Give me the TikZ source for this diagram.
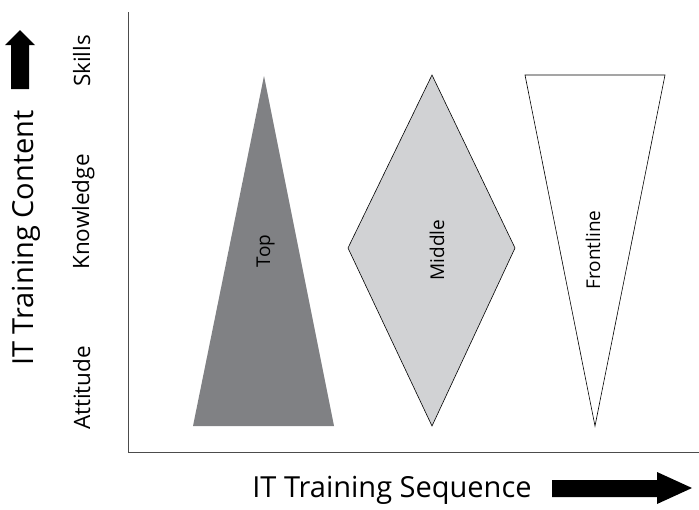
\documentclass[tikz,border=0pt]{standalone}
\usepackage{fontspec}
\setmainfont{Open Sans}
\usepackage{xcolor}
\usepackage{tikz}
\usetikzlibrary{arrows.meta, positioning, calc}
\definecolor{topgray}{HTML}{808184}
\definecolor{midgray}{HTML}{D1D2D4}
\tikzstyle{axis} = [draw=black!70, line width=1pt]
\tikzstyle{levellabel} = [rotate=90, anchor=base, font=\fontsize{22.5}{27}\selectfont, inner sep=0pt]
\tikzstyle{shapelabel} = [rotate=90, anchor=base, font=\fontsize{19}{23}\selectfont, inner sep=0pt]
\tikzstyle{axislabel} = [font=\fontsize{29}{35}\selectfont, inner sep=0pt]
\tikzstyle{bigarrow} = [fill=black, draw=none]

\begin{document}
\begin{tikzpicture}[x=1pt, y=-1pt]
    \useasboundingbox (0,0) rectangle (699,509);
    % Axes
    \coordinate (origin) at (128,452);
    \coordinate (ytop) at (128,12);
    \coordinate (xend) at (699,452);
    \draw[axis] (ytop) -- (origin) -- (xend);

    % Shapes
    \coordinate (topapex) at (264,76);
    \coordinate (topleft) at (193,426);
    \coordinate (topright) at (334,426);
    \fill[topgray] (topapex) -- (topright) -- (topleft) -- cycle;

    \coordinate (midn) at (432,75);
    \coordinate (mide) at (515,248);
    \coordinate (mids) at (432,426);
    \coordinate (midw) at (348,248);
    \draw[fill=midgray, line width=0.6pt] (midn) -- (mide) -- (mids) -- (midw) -- cycle;

    \coordinate (frontleft) at (525,75);
    \coordinate (frontright) at (665,75);
    \coordinate (frontbottom) at (595,426);
    \draw[fill=white, line width=0.6pt] (frontleft) -- (frontright) -- (frontbottom) -- cycle;

    % Shape labels
    \node[shapelabel] (toplbl) at (270,251) {Top};
    \node[shapelabel] (midlbl) at (444,250) {Middle};
    \node[shapelabel] (frontlbl) at (600,250) {Frontline};

    % Level labels
    \node[levellabel] (skills) at (90,61) {Skills};
    \node[levellabel] (knowledge) at (89,212) {Knowledge};
    \node[levellabel] (attitude) at (90,388) {Attitude};

    % Axis titles and arrows
    \node[axislabel, rotate=90, anchor=base] (content) at (33,238) {IT Training Content};
    \fill[bigarrow] (11,89) -- (11,45) -- (5,45) -- (20,30) -- (35,45) -- (29,45) -- (29,89) -- cycle;

    \node[axislabel] (sequence) at (392,490) {IT Training Sequence};
    \fill[bigarrow] (552,480) -- (657,480) -- (657,472) -- (692,488) -- (657,504) -- (657,497) -- (552,497) -- cycle;
\end{tikzpicture}
\end{document}
